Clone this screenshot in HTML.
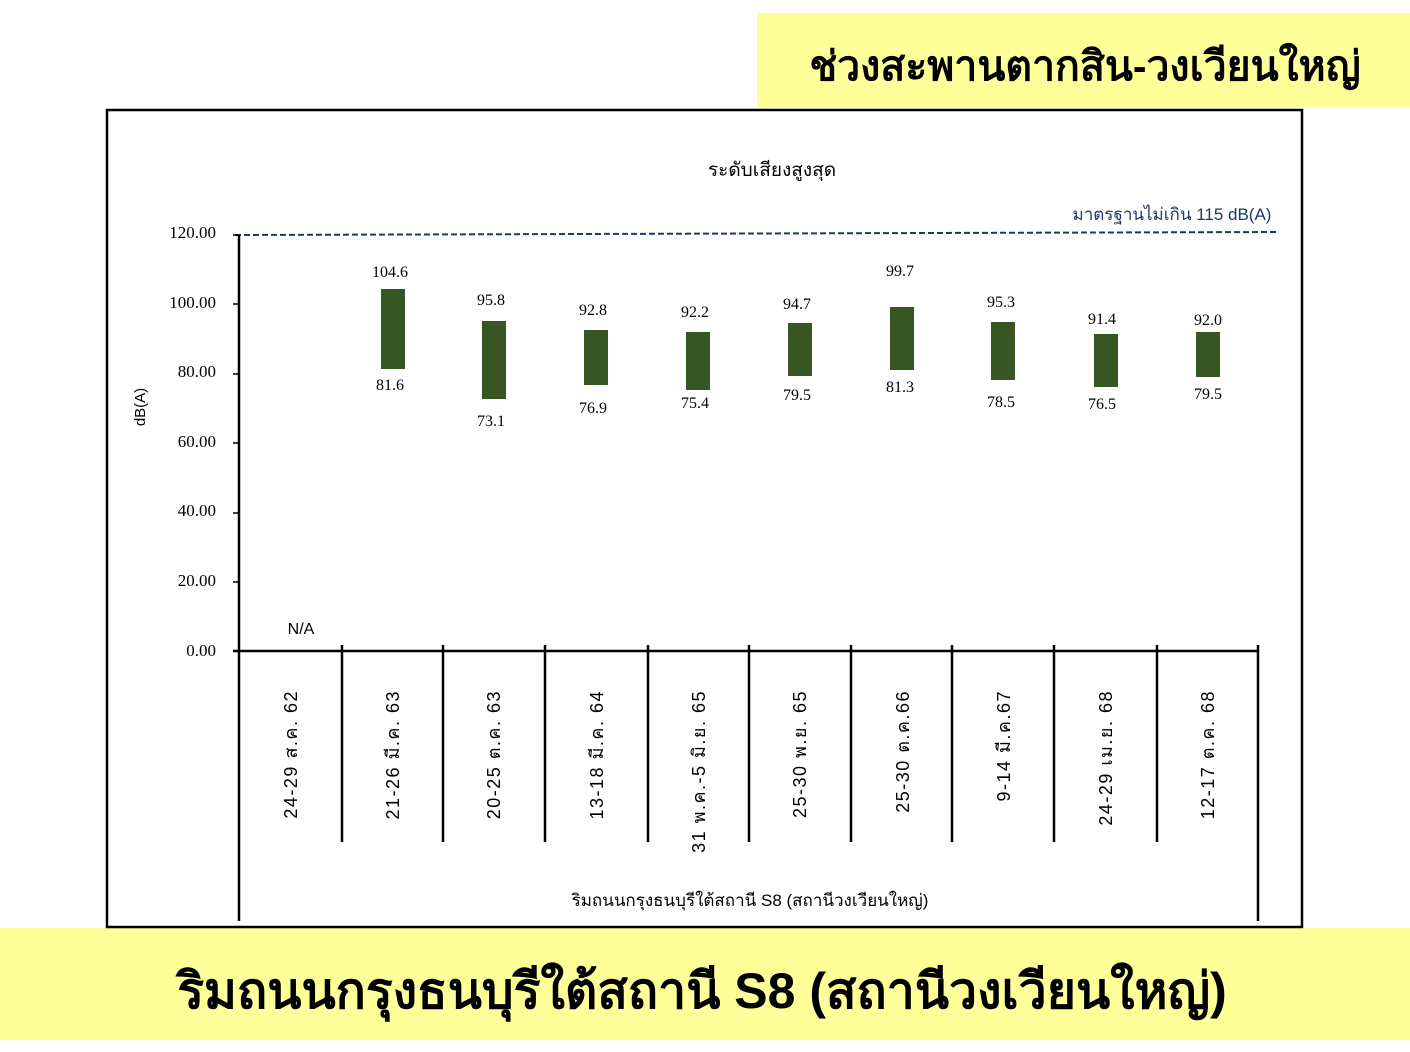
<!DOCTYPE html>
<html><head><meta charset="utf-8"><style>
body{margin:0;background:#fff;width:1410px;height:1052px;overflow:hidden;position:relative;font-family:"Liberation Sans","DejaVu Sans",sans-serif}
.top{position:absolute;left:757px;top:13px;width:653px;height:94px;background:#ffff99}
.bot{position:absolute;left:0;top:928px;width:1410px;height:112px;background:#ffff99}
svg{position:absolute;left:0;top:0}
</style></head><body>
<div class="top"></div><div class="bot"></div>
<svg width="1410" height="1052" xmlns="http://www.w3.org/2000/svg">
<text x="1085" y="80" font-size="41" font-weight="bold" text-anchor="middle" fill="#000">ช่วงสะพานตากสิน-วงเวียนใหญ่</text>
<rect x="107" y="110" width="1195" height="817" fill="#fff" stroke="#000" stroke-width="2.5"/>
<text x="772" y="176" font-size="19" text-anchor="middle">ระดับเสียงสูงสุด</text>
<text x="1172" y="220" font-size="17" text-anchor="middle" fill="#1f3864">มาตรฐานไม่เกิน 115 dB(A)</text>
<line x1="235" y1="235" x2="1276" y2="232" stroke="#1f3864" stroke-width="2" stroke-dasharray="6,3"/>
<g font-family="Liberation Serif,serif" font-size="17" text-anchor="end">
<text x="216" y="238">120.00</text><text x="216" y="308">100.00</text><text x="216" y="377">80.00</text>
<text x="216" y="447">60.00</text><text x="216" y="516">40.00</text><text x="216" y="586">20.00</text><text x="216" y="656">0.00</text>
</g>
<g stroke="#000" stroke-width="1.5">
<line x1="233" y1="235" x2="239" y2="235"/><line x1="233" y1="304" x2="239" y2="304"/><line x1="233" y1="374" x2="239" y2="374"/>
<line x1="233" y1="443" x2="239" y2="443"/><line x1="233" y1="513" x2="239" y2="513"/><line x1="233" y1="582" x2="239" y2="582"/>
</g>
<text transform="translate(145,407) rotate(-90)" font-size="15" text-anchor="middle">dB(A)</text>
<line x1="239" y1="235" x2="239" y2="921" stroke="#000" stroke-width="2.5"/>
<line x1="233" y1="651" x2="1258" y2="651" stroke="#000" stroke-width="2.5"/>
<line x1="1258" y1="645" x2="1258" y2="921" stroke="#000" stroke-width="2.5"/>
<g stroke="#000" stroke-width="2.5">
<line x1="342" y1="645" x2="342" y2="842"/><line x1="443" y1="645" x2="443" y2="842"/><line x1="545" y1="645" x2="545" y2="842"/>
<line x1="648" y1="645" x2="648" y2="842"/><line x1="749" y1="645" x2="749" y2="842"/><line x1="851" y1="645" x2="851" y2="842"/>
<line x1="952" y1="645" x2="952" y2="842"/><line x1="1054" y1="645" x2="1054" y2="842"/><line x1="1157" y1="645" x2="1157" y2="842"/>
</g>
<text x="301" y="634" font-size="16" text-anchor="middle">N/A</text>
<g fill="#375623">
<rect x="381" y="289" width="24" height="80"/>
<rect x="482" y="321" width="24" height="78"/>
<rect x="584" y="330" width="24" height="55"/>
<rect x="686" y="332" width="24" height="58"/>
<rect x="788" y="323" width="24" height="53"/>
<rect x="890" y="307" width="24" height="63"/>
<rect x="991" y="322" width="24" height="58"/>
<rect x="1094" y="334" width="24" height="53"/>
<rect x="1196" y="332" width="24" height="45"/>
</g>
<g font-family="Liberation Serif,serif" font-size="16" text-anchor="middle">
<text x="390" y="277">104.6</text><text x="390" y="390">81.6</text>
<text x="491" y="305">95.8</text><text x="491" y="426">73.1</text>
<text x="593" y="315">92.8</text><text x="593" y="413">76.9</text>
<text x="695" y="317">92.2</text><text x="695" y="408">75.4</text>
<text x="797" y="309">94.7</text><text x="797" y="400">79.5</text>
<text x="900" y="276">99.7</text><text x="900" y="392">81.3</text>
<text x="1001" y="307">95.3</text><text x="1001" y="407">78.5</text>
<text x="1102" y="324">91.4</text><text x="1102" y="409">76.5</text>
<text x="1208" y="325">92.0</text><text x="1208" y="399">79.5</text>
</g>
<g font-size="18" letter-spacing="1.5" text-anchor="end">
<text transform="translate(297,690) rotate(-90)">24-29 ส.ค. 62</text>
<text transform="translate(399,690) rotate(-90)">21-26 มี.ค. 63</text>
<text transform="translate(500,690) rotate(-90)">20-25 ต.ค. 63</text>
<text transform="translate(603,690) rotate(-90)">13-18 มี.ค. 64</text>
<text transform="translate(705,690) rotate(-90)">31 พ.ค.-5 มิ.ย. 65</text>
<text transform="translate(806,690) rotate(-90)">25-30 พ.ย. 65</text>
<text transform="translate(909,690) rotate(-90)">25-30 ต.ค.66</text>
<text transform="translate(1010,690) rotate(-90)">9-14 มี.ค.67</text>
<text transform="translate(1112,690) rotate(-90)">24-29 เม.ย. 68</text>
<text transform="translate(1214,690) rotate(-90)">12-17 ต.ค. 68</text>
</g>
<text x="750" y="906" font-size="17" text-anchor="middle">ริมถนนกรุงธนบุรีใต้สถานี S8 (สถานีวงเวียนใหญ่)</text>
<text x="702" y="1008" font-size="50" font-weight="bold" text-anchor="middle">ริมถนนกรุงธนบุรีใต้สถานี S8 (สถานีวงเวียนใหญ่)</text>
</svg>
</body></html>
